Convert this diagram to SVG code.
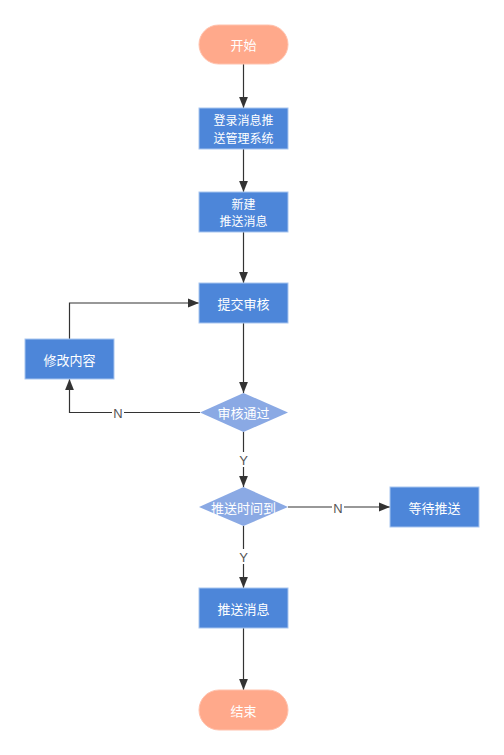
<svg xmlns="http://www.w3.org/2000/svg" width="504" height="755" viewBox="0 0 504 755">
<style>
text{font-family:"Noto Sans CJK SC","Liberation Sans",sans-serif;font-size:13px;fill:#fff;text-anchor:middle;dominant-baseline:central}
text.two{font-size:12px}
.term{fill:#ffa98b;stroke:#ffc2ad;stroke-width:1}
.box{fill:#4d86d9;stroke:#a8c5ef;stroke-width:1}
.dia{fill:#8aa9e4}
.ln{fill:none;stroke:#333;stroke-width:1.2}
text.lbl{fill:#555555;font-family:"Liberation Sans",sans-serif;font-size:13px}
.lblbg{fill:#fff}
</style>
<defs>
<marker id="ar" viewBox="0 0 10 10" refX="10" refY="5" markerWidth="11" markerHeight="11" markerUnits="userSpaceOnUse" orient="auto">
<path d="M0,1 L10,5 L0,9 Z" fill="#333"/>
</marker>
</defs>
<g id="connectors">
<path class="ln" d="M243.5,64 V108" marker-end="url(#ar)"/>
<path class="ln" d="M243.5,149 V192" marker-end="url(#ar)"/>
<path class="ln" d="M243.5,232 V283" marker-end="url(#ar)"/>
<path class="ln" d="M243.5,323 V393" marker-end="url(#ar)"/>
<path class="ln" d="M200,412.5 H69.5 V379" marker-end="url(#ar)"/>
<path class="ln" d="M69.5,339 V303 H199" marker-end="url(#ar)"/>
<path class="ln" d="M243.5,432 V487" marker-end="url(#ar)"/>
<path class="ln" d="M288,507 H390" marker-end="url(#ar)"/>
<path class="ln" d="M243.5,526 V588" marker-end="url(#ar)"/>
<path class="ln" d="M243.5,628 V690" marker-end="url(#ar)"/>
<rect class="lblbg" x="112" y="405" width="12" height="15"/>
<text class="lbl" x="118" y="413">N</text>
<rect class="lblbg" x="237" y="452" width="13" height="15"/>
<text class="lbl" x="243.5" y="460">Y</text>
<rect class="lblbg" x="332" y="500" width="12" height="15"/>
<text class="lbl" x="338" y="508">N</text>
<rect class="lblbg" x="237" y="549" width="13" height="15"/>
<text class="lbl" x="243.5" y="557">Y</text>
</g>
<g id="start"><rect class="term" x="199" y="25" width="89" height="39" rx="19.5"/><text x="243.5" y="44.5">开始</text></g>
<g id="login"><rect class="box" x="199" y="108" width="89" height="41"/><text class="two" x="243.5" y="119.6">登录消息推</text><text class="two" x="243.5" y="137.4">送管理系统</text></g>
<g id="create"><rect class="box" x="199" y="192" width="89" height="40"/><text class="two" x="243.5" y="203.1">新建</text><text class="two" x="243.5" y="220.9">推送消息</text></g>
<g id="submit"><rect class="box" x="199" y="283" width="89" height="40"/><text x="243.5" y="303">提交审核</text></g>
<g id="modify"><rect class="box" x="25" y="339" width="89" height="40"/><text x="69.5" y="359">修改内容</text></g>
<g id="approve"><path class="dia" d="M243.5,393 L288,412.5 L243.5,432 L200,412.5 Z"/><text x="243.5" y="412.5">审核通过</text></g>
<g id="timecheck"><path class="dia" d="M243.5,487 L288,507 L243.5,526 L199,507 Z"/><text x="243.5" y="507">推送时间到</text></g>
<g id="wait"><rect class="box" x="390" y="487" width="89" height="40"/><text x="434.5" y="507">等待推送</text></g>
<g id="push"><rect class="box" x="199" y="588" width="89" height="40"/><text x="243.5" y="608">推送消息</text></g>
<g id="end"><rect class="term" x="199" y="690" width="89" height="40" rx="20"/><text x="243.5" y="710">结束</text></g>
</svg>
